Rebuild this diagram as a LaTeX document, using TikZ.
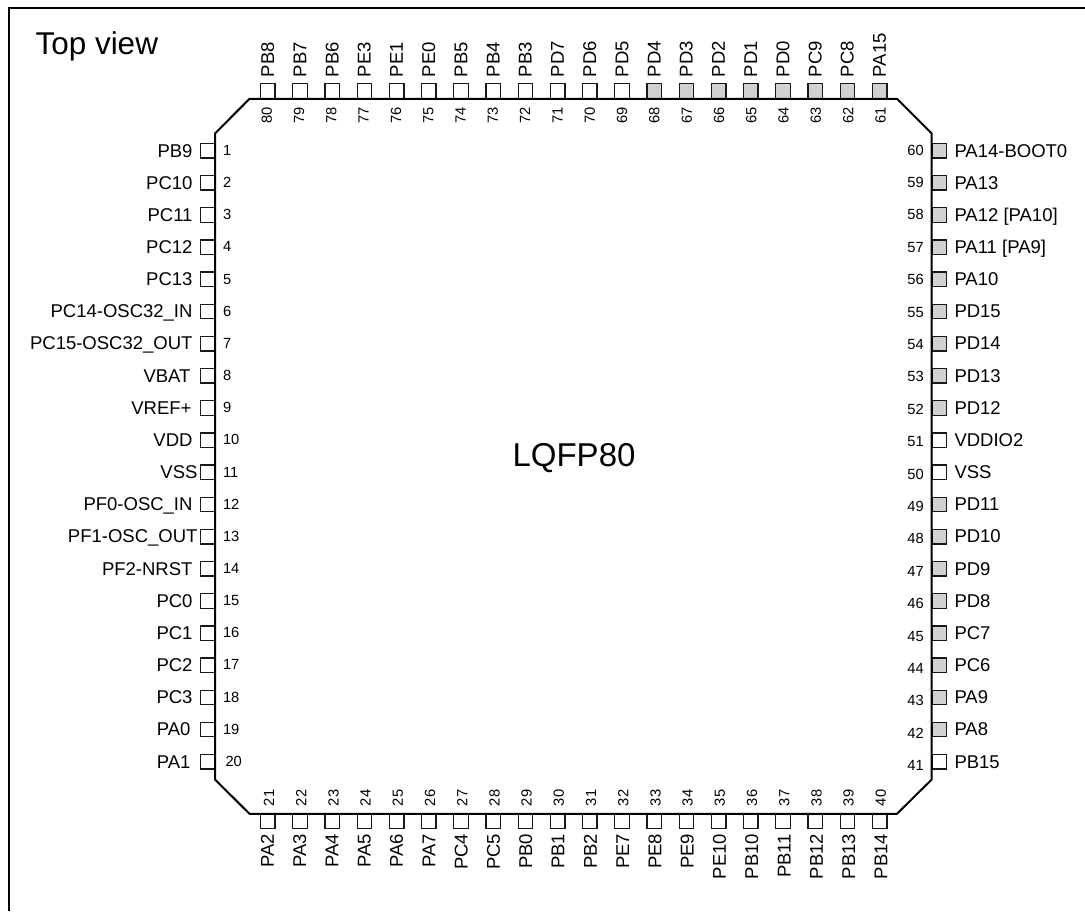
\documentclass[tikz,border=0pt]{standalone}
\usepackage{fontspec}
\setmainfont{Liberation Sans}
\tikzset{
  pinbox/.style={draw=black!90,line width=1.3pt,fill=white,minimum size=14.5pt,inner sep=0pt,outer sep=0pt},
  greypin/.style={pinbox,fill=black!18},
  pinlab/.style={inner sep=0pt,outer sep=0pt,font=\fontsize{18.5}{20}\selectfont,text=black},
  pinnum/.style={inner sep=0pt,outer sep=0pt,font=\fontsize{14.7}{16}\selectfont,text=black},
  bigtxt/.style={inner sep=0pt,outer sep=0pt,font=\fontsize{31.5}{34}\selectfont,text=black},
  pkgtxt/.style={inner sep=0pt,outer sep=0pt,font=\fontsize{33}{36}\selectfont,text=black},
  chipline/.style={line width=2pt,line join=miter,draw=black},
  frameline/.style={line width=2pt,draw=black}
}
\begin{document}
\begin{tikzpicture}[x=1pt,y=-1pt]
\useasboundingbox (0,0) rectangle (1085,911);
\coordinate (fa) at (9,911);
\coordinate (fb) at (9,8);
\coordinate (fc) at (1085,8);
\draw[frameline] (fa) -- (fb) -- (fc);
\node[bigtxt,anchor=base west] (topview) at (35.5,54.5) {Top view};
\node[pkgtxt,anchor=base] (pkg) at (574,466) {LQFP80};
% left side
\foreach \n/\lab/\edge/\numx in {1/PB9/192.5/223,2/PC10/192.5/223,3/PC11/192.5/223,4/PC12/192.5/223,5/PC13/192.5/223,6/PC14-OSC32\_IN/192.5/223,7/PC15-OSC32\_OUT/192.5/223,8/VBAT/190.5/223,9/VREF+/191.5/223,10/VDD/192.5/223,11/VSS/197.5/223,12/PF0-OSC\_IN/192.5/223,13/PF1-OSC\_OUT/197.5/223,14/PF2-NRST/192.5/223,15/PC0/192.5/223,16/PC1/192.5/223,17/PC2/192.5/223,18/PC3/192.5/223,19/PA0/190.5/223,20/PA1/190.5/225.5}{
  \pgfmathsetmacro{\yy}{150.7+32.16*(\n-1)}
  \node[pinbox] (p\n) at (207.7,\yy) {};
  \node[pinlab,anchor=base east] (l\n) at (\edge,\yy+6.3) {\lab};
  \node[pinnum,anchor=base west] (n\n) at (\numx,\yy+4.7) {\n};
}
% bottom side
\foreach \n/\lab in {21/PA2,22/PA3,23/PA4,24/PA5,25/PA6,26/PA7,27/PC4,28/PC5,29/PB0,30/PB1,31/PB2,32/PE7,33/PE8,34/PE9,35/PE10,36/PB10,37/PB11,38/PB12,39/PB13,40/PB14}{
  \pgfmathsetmacro{\xx}{267.8+32.2*(\n-21)}
  \pgfmathsetmacro{\lo}{6+1.8*(\n-21)/19}
  \node[pinbox] (p\n) at (\xx,821.2) {};
  \node[pinlab,rotate=90,anchor=base east] (l\n) at (\xx+\lo,834) {\lab};
  \node[pinnum,rotate=90,anchor=base west] (n\n) at (\xx+6.3,806) {\n};
}
% right side
\foreach \n/\lab/\sty in {41/PB15/pinbox,42/PA8/greypin,43/PA9/greypin,44/PC6/greypin,45/PC7/greypin,46/PD8/greypin,47/PD9/greypin,48/PD10/greypin,49/PD11/greypin,50/VSS/pinbox,51/VDDIO2/pinbox,52/PD12/greypin,53/PD13/greypin,54/PD14/greypin,55/PD15/greypin,56/PA10/greypin,57/{PA11 [PA9]}/greypin,58/{PA12 [PA10]}/greypin,59/PA13/greypin,60/PA14-BOOT0/greypin}{
  \pgfmathsetmacro{\yy}{150.7+32.16*(60-\n)}
  \pgfmathsetmacro{\no}{4.3+4.7*(60-\n)/19}
  \node[\sty] (p\n) at (939.4,\yy) {};
  \node[pinlab,anchor=base west] (l\n) at (954.5,\yy+6.3) {\lab};
  \node[pinnum,anchor=base east] (n\n) at (923.7,\yy+\no) {\n};
}
% top side
\foreach \n/\lab/\sty in {61/PA15/greypin,62/PC8/greypin,63/PC9/greypin,64/PD0/greypin,65/PD1/greypin,66/PD2/greypin,67/PD3/greypin,68/PD4/greypin,69/PD5/pinbox,70/PD6/pinbox,71/PD7/pinbox,72/PB3/pinbox,73/PB4/pinbox,74/PB5/pinbox,75/PE0/pinbox,76/PE1/pinbox,77/PE3/pinbox,78/PB6/pinbox,79/PB7/pinbox,80/PB8/pinbox}{
  \pgfmathsetmacro{\xx}{267.8+32.2*(80-\n)}
  \pgfmathsetmacro{\no}{4+2*(80-\n)/19}
  \node[\sty] (p\n) at (\xx,91) {};
  \node[pinlab,rotate=90,anchor=base west] (l\n) at (\xx+6.3,77) {\lab};
  \node[pinnum,rotate=90,anchor=base west] (n\n) at (\xx+\no,123.5) {\n};
}
% package outline
\draw[chipline] (215,133.5) -- (249.5,98.8) -- (897,98.8) -- (931.7,133.5) -- (931.7,779.5) -- (897,813.8) -- (249.5,813.8) -- (215,779.5) -- cycle;
\end{tikzpicture}
\end{document}
